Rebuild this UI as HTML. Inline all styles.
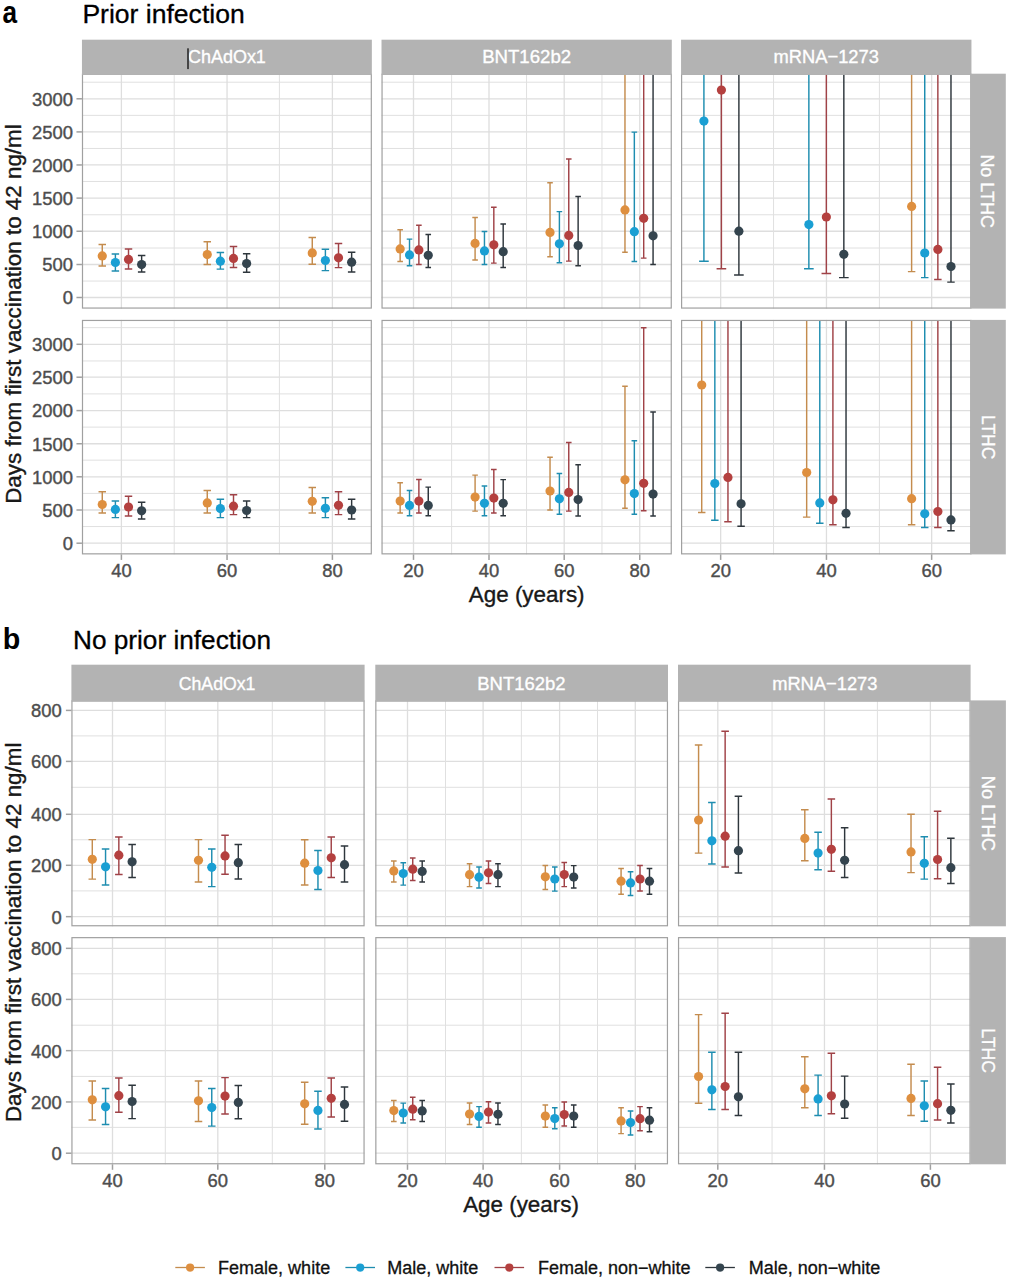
<!DOCTYPE html>
<html><head><meta charset="utf-8"><style>
html,body{margin:0;padding:0;background:#fff;}
svg{display:block;}
text{font-family:"Liberation Sans", sans-serif;}
.st{fill:#fff;font-size:18.5px;text-anchor:middle;stroke:#fff;stroke-width:0.35px;}
.ax{fill:#4D4D4D;font-size:18.4px;stroke:#4D4D4D;stroke-width:0.4px;}
.ti{fill:#1a1a1a;font-size:22.4px;stroke:#111;stroke-width:0.35px;}
.tt{fill:#000;font-size:26.55px;stroke:#000;stroke-width:0.3px;}
.lt{fill:#000;font-size:30.5px;font-weight:bold;}
.lg{fill:#111;font-size:18px;stroke:#111;stroke-width:0.3px;}
.gmaj{stroke:#DEDEDE;stroke-width:1.3;}
.gmin{stroke:#E0E0E0;stroke-width:1.0;}
.bd{fill:none;stroke:#A0A0A0;stroke-width:1.2;}
.tk{stroke:#A0A0A0;stroke-width:1.5;}
.eb{fill:none;stroke-width:1.45;}
</style></head><body>
<svg width="1009" height="1280" viewBox="0 0 1009 1280">
<rect width="1009" height="1280" fill="#fff"/>
<g>
<rect x="81.95" y="73.7" width="289.90" height="234.90" fill="#fff"/>
<line x1="81.95" x2="371.85" y1="82.20" y2="82.20" class="gmin"/>
<line x1="81.95" x2="371.85" y1="98.80" y2="98.80" class="gmaj"/>
<line x1="81.95" x2="371.85" y1="115.35" y2="115.35" class="gmin"/>
<line x1="81.95" x2="371.85" y1="131.90" y2="131.90" class="gmaj"/>
<line x1="81.95" x2="371.85" y1="148.45" y2="148.45" class="gmin"/>
<line x1="81.95" x2="371.85" y1="164.95" y2="164.95" class="gmaj"/>
<line x1="81.95" x2="371.85" y1="181.45" y2="181.45" class="gmin"/>
<line x1="81.95" x2="371.85" y1="198.10" y2="198.10" class="gmaj"/>
<line x1="81.95" x2="371.85" y1="214.75" y2="214.75" class="gmin"/>
<line x1="81.95" x2="371.85" y1="231.25" y2="231.25" class="gmaj"/>
<line x1="81.95" x2="371.85" y1="248.00" y2="248.00" class="gmin"/>
<line x1="81.95" x2="371.85" y1="264.50" y2="264.50" class="gmaj"/>
<line x1="81.95" x2="371.85" y1="281.05" y2="281.05" class="gmin"/>
<line x1="81.95" x2="371.85" y1="297.50" y2="297.50" class="gmaj"/>
<line x1="121.40" x2="121.40" y1="73.7" y2="308.6" class="gmaj"/>
<line x1="174.20" x2="174.20" y1="73.7" y2="308.6" class="gmin"/>
<line x1="227.05" x2="227.05" y1="73.7" y2="308.6" class="gmaj"/>
<line x1="279.40" x2="279.40" y1="73.7" y2="308.6" class="gmin"/>
<line x1="332.40" x2="332.40" y1="73.7" y2="308.6" class="gmaj"/>
<clipPath id="ca00"><rect x="81.95" y="73.7" width="289.90" height="234.90"/></clipPath>
<g clip-path="url(#ca00)">
<path d="M98.53 244.40H105.99M102.26 244.40V266.00M98.53 266.00H105.99" stroke="#C48C4E" class="eb"/>
<path d="M111.66 253.90H119.12M115.39 253.90V270.90M111.66 270.90H119.12" stroke="#1E8DB0" class="eb"/>
<path d="M124.78 249.00H132.24M128.51 249.00V268.90M124.78 268.90H132.24" stroke="#A04247" class="eb"/>
<path d="M137.91 255.40H145.37M141.64 255.40V272.00M137.91 272.00H145.37" stroke="#2E363C" class="eb"/>
<path d="M203.53 241.80H210.99M207.26 241.80V264.40M203.53 264.40H210.99" stroke="#C48C4E" class="eb"/>
<path d="M216.66 252.40H224.12M220.39 252.40V269.10M216.66 269.10H224.12" stroke="#1E8DB0" class="eb"/>
<path d="M229.78 246.40H237.24M233.51 246.40V267.40M229.78 267.40H237.24" stroke="#A04247" class="eb"/>
<path d="M242.91 253.80H250.37M246.64 253.80V272.30M242.91 272.30H250.37" stroke="#2E363C" class="eb"/>
<path d="M308.53 237.40H315.99M312.26 237.40V264.30M308.53 264.30H315.99" stroke="#C48C4E" class="eb"/>
<path d="M321.66 249.30H329.12M325.39 249.30V270.60M321.66 270.60H329.12" stroke="#1E8DB0" class="eb"/>
<path d="M334.78 243.40H342.24M338.51 243.40V267.60M334.78 267.60H342.24" stroke="#A04247" class="eb"/>
<path d="M347.91 252.30H355.37M351.64 252.30V272.00M347.91 272.00H355.37" stroke="#2E363C" class="eb"/>
<circle cx="102.26" cy="255.90" r="4.6" fill="#DE8F3F"/>
<circle cx="115.39" cy="262.50" r="4.6" fill="#1A9FD3"/>
<circle cx="128.51" cy="259.40" r="4.6" fill="#B4403F"/>
<circle cx="141.64" cy="264.60" r="4.6" fill="#34444E"/>
<circle cx="207.26" cy="254.60" r="4.6" fill="#DE8F3F"/>
<circle cx="220.39" cy="261.20" r="4.6" fill="#1A9FD3"/>
<circle cx="233.51" cy="258.40" r="4.6" fill="#B4403F"/>
<circle cx="246.64" cy="263.60" r="4.6" fill="#34444E"/>
<circle cx="312.26" cy="252.90" r="4.6" fill="#DE8F3F"/>
<circle cx="325.39" cy="260.50" r="4.6" fill="#1A9FD3"/>
<circle cx="338.51" cy="257.80" r="4.6" fill="#B4403F"/>
<circle cx="351.64" cy="262.20" r="4.6" fill="#34444E"/>
</g>
<rect x="82.50" y="74.25" width="288.80" height="233.80" class="bd"/>
</g>
<line x1="76.45" x2="81.95" y1="297.50" y2="297.50" class="tk"/>
<text x="72.95" y="304.35" class="ax" text-anchor="end">0</text>
<line x1="76.45" x2="81.95" y1="264.50" y2="264.50" class="tk"/>
<text x="72.95" y="271.35" class="ax" text-anchor="end">500</text>
<line x1="76.45" x2="81.95" y1="231.25" y2="231.25" class="tk"/>
<text x="72.95" y="238.10" class="ax" text-anchor="end">1000</text>
<line x1="76.45" x2="81.95" y1="198.10" y2="198.10" class="tk"/>
<text x="72.95" y="204.95" class="ax" text-anchor="end">1500</text>
<line x1="76.45" x2="81.95" y1="164.95" y2="164.95" class="tk"/>
<text x="72.95" y="171.80" class="ax" text-anchor="end">2000</text>
<line x1="76.45" x2="81.95" y1="131.90" y2="131.90" class="tk"/>
<text x="72.95" y="138.75" class="ax" text-anchor="end">2500</text>
<line x1="76.45" x2="81.95" y1="98.80" y2="98.80" class="tk"/>
<text x="72.95" y="105.65" class="ax" text-anchor="end">3000</text>
<g>
<rect x="381.5" y="73.7" width="290.30" height="234.90" fill="#fff"/>
<line x1="381.5" x2="671.8" y1="82.20" y2="82.20" class="gmin"/>
<line x1="381.5" x2="671.8" y1="98.80" y2="98.80" class="gmaj"/>
<line x1="381.5" x2="671.8" y1="115.35" y2="115.35" class="gmin"/>
<line x1="381.5" x2="671.8" y1="131.90" y2="131.90" class="gmaj"/>
<line x1="381.5" x2="671.8" y1="148.45" y2="148.45" class="gmin"/>
<line x1="381.5" x2="671.8" y1="164.95" y2="164.95" class="gmaj"/>
<line x1="381.5" x2="671.8" y1="181.45" y2="181.45" class="gmin"/>
<line x1="381.5" x2="671.8" y1="198.10" y2="198.10" class="gmaj"/>
<line x1="381.5" x2="671.8" y1="214.75" y2="214.75" class="gmin"/>
<line x1="381.5" x2="671.8" y1="231.25" y2="231.25" class="gmaj"/>
<line x1="381.5" x2="671.8" y1="248.00" y2="248.00" class="gmin"/>
<line x1="381.5" x2="671.8" y1="264.50" y2="264.50" class="gmaj"/>
<line x1="381.5" x2="671.8" y1="281.05" y2="281.05" class="gmin"/>
<line x1="381.5" x2="671.8" y1="297.50" y2="297.50" class="gmaj"/>
<line x1="413.50" x2="413.50" y1="73.7" y2="308.6" class="gmaj"/>
<line x1="451.60" x2="451.60" y1="73.7" y2="308.6" class="gmin"/>
<line x1="489.00" x2="489.00" y1="73.7" y2="308.6" class="gmaj"/>
<line x1="526.55" x2="526.55" y1="73.7" y2="308.6" class="gmin"/>
<line x1="564.20" x2="564.20" y1="73.7" y2="308.6" class="gmaj"/>
<line x1="601.95" x2="601.95" y1="73.7" y2="308.6" class="gmin"/>
<line x1="639.75" x2="639.75" y1="73.7" y2="308.6" class="gmaj"/>
<clipPath id="ca01"><rect x="381.5" y="73.7" width="290.30" height="234.90"/></clipPath>
<g clip-path="url(#ca01)">
<path d="M397.36 229.80H402.94M400.15 229.80V261.40M397.36 261.40H402.94" stroke="#C48C4E" class="eb"/>
<path d="M406.72 239.10H412.31M409.52 239.10V265.70M406.72 265.70H412.31" stroke="#1E8DB0" class="eb"/>
<path d="M416.09 225.20H421.68M418.88 225.20V264.50M416.09 264.50H421.68" stroke="#A04247" class="eb"/>
<path d="M425.46 234.40H431.04M428.25 234.40V267.40M425.46 267.40H431.04" stroke="#2E363C" class="eb"/>
<path d="M472.30 217.50H477.88M475.09 217.50V259.90M472.30 259.90H477.88" stroke="#C48C4E" class="eb"/>
<path d="M481.66 231.50H487.25M484.46 231.50V264.50M481.66 264.50H487.25" stroke="#1E8DB0" class="eb"/>
<path d="M491.03 207.20H496.62M493.82 207.20V263.10M491.03 263.10H496.62" stroke="#A04247" class="eb"/>
<path d="M500.40 224.00H505.98M503.19 224.00V267.40M500.40 267.40H505.98" stroke="#2E363C" class="eb"/>
<path d="M547.24 182.80H552.82M550.03 182.80V256.80M547.24 256.80H552.82" stroke="#C48C4E" class="eb"/>
<path d="M556.60 211.60H562.19M559.40 211.60V262.80M556.60 262.80H562.19" stroke="#1E8DB0" class="eb"/>
<path d="M565.97 159.00H571.56M568.76 159.00V261.10M565.97 261.10H571.56" stroke="#A04247" class="eb"/>
<path d="M575.34 196.50H580.92M578.13 196.50V265.70M575.34 265.70H580.92" stroke="#2E363C" class="eb"/>
<path d="M622.18 53.70H627.76M624.97 53.70V252.20M622.18 252.20H627.76" stroke="#C48C4E" class="eb"/>
<path d="M631.54 132.10H637.13M634.34 132.10V261.50M631.54 261.50H637.13" stroke="#1E8DB0" class="eb"/>
<path d="M640.91 53.70H646.50M643.70 53.70V258.10M640.91 258.10H646.50" stroke="#A04247" class="eb"/>
<path d="M650.28 53.70H655.86M653.07 53.70V264.50M650.28 264.50H655.86" stroke="#2E363C" class="eb"/>
<circle cx="400.15" cy="248.90" r="4.6" fill="#DE8F3F"/>
<circle cx="409.52" cy="254.90" r="4.6" fill="#1A9FD3"/>
<circle cx="418.88" cy="249.90" r="4.6" fill="#B4403F"/>
<circle cx="428.25" cy="255.30" r="4.6" fill="#34444E"/>
<circle cx="475.09" cy="243.40" r="4.6" fill="#DE8F3F"/>
<circle cx="484.46" cy="250.90" r="4.6" fill="#1A9FD3"/>
<circle cx="493.82" cy="244.80" r="4.6" fill="#B4403F"/>
<circle cx="503.19" cy="251.70" r="4.6" fill="#34444E"/>
<circle cx="550.03" cy="232.40" r="4.6" fill="#DE8F3F"/>
<circle cx="559.40" cy="243.80" r="4.6" fill="#1A9FD3"/>
<circle cx="568.76" cy="235.40" r="4.6" fill="#B4403F"/>
<circle cx="578.13" cy="245.50" r="4.6" fill="#34444E"/>
<circle cx="624.97" cy="209.90" r="4.6" fill="#DE8F3F"/>
<circle cx="634.34" cy="231.70" r="4.6" fill="#1A9FD3"/>
<circle cx="643.70" cy="218.30" r="4.6" fill="#B4403F"/>
<circle cx="653.07" cy="235.80" r="4.6" fill="#34444E"/>
</g>
<rect x="382.05" y="74.25" width="289.20" height="233.80" class="bd"/>
</g>
<g>
<rect x="681.05" y="73.7" width="290.40" height="234.90" fill="#fff"/>
<line x1="681.05" x2="971.45" y1="82.20" y2="82.20" class="gmin"/>
<line x1="681.05" x2="971.45" y1="98.80" y2="98.80" class="gmaj"/>
<line x1="681.05" x2="971.45" y1="115.35" y2="115.35" class="gmin"/>
<line x1="681.05" x2="971.45" y1="131.90" y2="131.90" class="gmaj"/>
<line x1="681.05" x2="971.45" y1="148.45" y2="148.45" class="gmin"/>
<line x1="681.05" x2="971.45" y1="164.95" y2="164.95" class="gmaj"/>
<line x1="681.05" x2="971.45" y1="181.45" y2="181.45" class="gmin"/>
<line x1="681.05" x2="971.45" y1="198.10" y2="198.10" class="gmaj"/>
<line x1="681.05" x2="971.45" y1="214.75" y2="214.75" class="gmin"/>
<line x1="681.05" x2="971.45" y1="231.25" y2="231.25" class="gmaj"/>
<line x1="681.05" x2="971.45" y1="248.00" y2="248.00" class="gmin"/>
<line x1="681.05" x2="971.45" y1="264.50" y2="264.50" class="gmaj"/>
<line x1="681.05" x2="971.45" y1="281.05" y2="281.05" class="gmin"/>
<line x1="681.05" x2="971.45" y1="297.50" y2="297.50" class="gmaj"/>
<line x1="720.65" x2="720.65" y1="73.7" y2="308.6" class="gmaj"/>
<line x1="773.55" x2="773.55" y1="73.7" y2="308.6" class="gmin"/>
<line x1="826.45" x2="826.45" y1="73.7" y2="308.6" class="gmaj"/>
<line x1="879.40" x2="879.40" y1="73.7" y2="308.6" class="gmin"/>
<line x1="931.65" x2="931.65" y1="73.7" y2="308.6" class="gmaj"/>
<clipPath id="ca02"><rect x="681.05" y="73.7" width="290.40" height="234.90"/></clipPath>
<g clip-path="url(#ca02)">
<path d="M699.09 53.70H708.73M703.91 53.70V261.20M699.09 261.20H708.73" stroke="#1E8DB0" class="eb"/>
<path d="M716.58 53.70H726.22M721.40 53.70V268.80M716.58 268.80H726.22" stroke="#A04247" class="eb"/>
<path d="M734.07 53.70H743.71M738.89 53.70V274.90M734.07 274.90H743.71" stroke="#2E363C" class="eb"/>
<path d="M804.04 53.70H813.68M808.86 53.70V268.80M804.04 268.80H813.68" stroke="#1E8DB0" class="eb"/>
<path d="M821.53 53.70H831.17M826.35 53.70V273.40M821.53 273.40H831.17" stroke="#A04247" class="eb"/>
<path d="M839.02 53.70H848.66M843.84 53.70V277.60M839.02 277.60H848.66" stroke="#2E363C" class="eb"/>
<path d="M907.89 53.70H915.35M911.62 53.70V271.60M907.89 271.60H915.35" stroke="#C48C4E" class="eb"/>
<path d="M921.01 53.70H928.47M924.74 53.70V277.60M921.01 277.60H928.47" stroke="#1E8DB0" class="eb"/>
<path d="M934.13 53.70H941.59M937.86 53.70V279.40M934.13 279.40H941.59" stroke="#A04247" class="eb"/>
<path d="M947.25 53.70H954.71M950.98 53.70V282.10M947.25 282.10H954.71" stroke="#2E363C" class="eb"/>
<circle cx="703.91" cy="121.10" r="4.6" fill="#1A9FD3"/>
<circle cx="721.40" cy="90.10" r="4.6" fill="#B4403F"/>
<circle cx="738.89" cy="231.20" r="4.6" fill="#34444E"/>
<circle cx="808.86" cy="224.60" r="4.6" fill="#1A9FD3"/>
<circle cx="826.35" cy="217.00" r="4.6" fill="#B4403F"/>
<circle cx="843.84" cy="254.30" r="4.6" fill="#34444E"/>
<circle cx="911.62" cy="206.40" r="4.6" fill="#DE8F3F"/>
<circle cx="924.74" cy="253.00" r="4.6" fill="#1A9FD3"/>
<circle cx="937.86" cy="249.40" r="4.6" fill="#B4403F"/>
<circle cx="950.98" cy="266.50" r="4.6" fill="#34444E"/>
</g>
<rect x="681.60" y="74.25" width="289.30" height="233.80" class="bd"/>
</g>
<g>
<rect x="81.95" y="319.9" width="289.90" height="234.50" fill="#fff"/>
<line x1="81.95" x2="371.85" y1="327.65" y2="327.65" class="gmin"/>
<line x1="81.95" x2="371.85" y1="344.30" y2="344.30" class="gmaj"/>
<line x1="81.95" x2="371.85" y1="360.95" y2="360.95" class="gmin"/>
<line x1="81.95" x2="371.85" y1="377.20" y2="377.20" class="gmaj"/>
<line x1="81.95" x2="371.85" y1="393.90" y2="393.90" class="gmin"/>
<line x1="81.95" x2="371.85" y1="410.60" y2="410.60" class="gmaj"/>
<line x1="81.95" x2="371.85" y1="427.10" y2="427.10" class="gmin"/>
<line x1="81.95" x2="371.85" y1="443.75" y2="443.75" class="gmaj"/>
<line x1="81.95" x2="371.85" y1="460.15" y2="460.15" class="gmin"/>
<line x1="81.95" x2="371.85" y1="476.80" y2="476.80" class="gmaj"/>
<line x1="81.95" x2="371.85" y1="493.40" y2="493.40" class="gmin"/>
<line x1="81.95" x2="371.85" y1="510.00" y2="510.00" class="gmaj"/>
<line x1="81.95" x2="371.85" y1="526.55" y2="526.55" class="gmin"/>
<line x1="81.95" x2="371.85" y1="543.20" y2="543.20" class="gmaj"/>
<line x1="121.40" x2="121.40" y1="319.9" y2="554.4" class="gmaj"/>
<line x1="174.20" x2="174.20" y1="319.9" y2="554.4" class="gmin"/>
<line x1="227.05" x2="227.05" y1="319.9" y2="554.4" class="gmaj"/>
<line x1="279.40" x2="279.40" y1="319.9" y2="554.4" class="gmin"/>
<line x1="332.40" x2="332.40" y1="319.9" y2="554.4" class="gmaj"/>
<clipPath id="ca10"><rect x="81.95" y="319.9" width="289.90" height="234.50"/></clipPath>
<g clip-path="url(#ca10)">
<path d="M98.53 491.70H105.99M102.26 491.70V513.00M98.53 513.00H105.99" stroke="#C48C4E" class="eb"/>
<path d="M111.66 501.00H119.12M115.39 501.00V517.60M111.66 517.60H119.12" stroke="#1E8DB0" class="eb"/>
<path d="M124.78 496.30H132.24M128.51 496.30V516.00M124.78 516.00H132.24" stroke="#A04247" class="eb"/>
<path d="M137.91 502.30H145.37M141.64 502.30V519.00M137.91 519.00H145.37" stroke="#2E363C" class="eb"/>
<path d="M203.53 490.40H210.99M207.26 490.40V513.00M203.53 513.00H210.99" stroke="#C48C4E" class="eb"/>
<path d="M216.66 499.30H224.12M220.39 499.30V517.60M216.66 517.60H224.12" stroke="#1E8DB0" class="eb"/>
<path d="M229.78 494.70H237.24M233.51 494.70V514.60M229.78 514.60H237.24" stroke="#A04247" class="eb"/>
<path d="M242.91 501.00H250.37M246.64 501.00V517.60M242.91 517.60H250.37" stroke="#2E363C" class="eb"/>
<path d="M308.53 487.40H315.99M312.26 487.40V513.00M308.53 513.00H315.99" stroke="#C48C4E" class="eb"/>
<path d="M321.66 497.70H329.12M325.39 497.70V517.60M321.66 517.60H329.12" stroke="#1E8DB0" class="eb"/>
<path d="M334.78 491.70H342.24M338.51 491.70V514.60M334.78 514.60H342.24" stroke="#A04247" class="eb"/>
<path d="M347.91 499.30H355.37M351.64 499.30V519.00M347.91 519.00H355.37" stroke="#2E363C" class="eb"/>
<circle cx="102.26" cy="504.50" r="4.6" fill="#DE8F3F"/>
<circle cx="115.39" cy="509.40" r="4.6" fill="#1A9FD3"/>
<circle cx="128.51" cy="507.00" r="4.6" fill="#B4403F"/>
<circle cx="141.64" cy="510.80" r="4.6" fill="#34444E"/>
<circle cx="207.26" cy="502.90" r="4.6" fill="#DE8F3F"/>
<circle cx="220.39" cy="508.60" r="4.6" fill="#1A9FD3"/>
<circle cx="233.51" cy="506.20" r="4.6" fill="#B4403F"/>
<circle cx="246.64" cy="510.50" r="4.6" fill="#34444E"/>
<circle cx="312.26" cy="501.30" r="4.6" fill="#DE8F3F"/>
<circle cx="325.39" cy="508.30" r="4.6" fill="#1A9FD3"/>
<circle cx="338.51" cy="505.30" r="4.6" fill="#B4403F"/>
<circle cx="351.64" cy="510.00" r="4.6" fill="#34444E"/>
</g>
<rect x="82.50" y="320.45" width="288.80" height="233.40" class="bd"/>
</g>
<line x1="76.45" x2="81.95" y1="543.20" y2="543.20" class="tk"/>
<text x="72.95" y="550.05" class="ax" text-anchor="end">0</text>
<line x1="76.45" x2="81.95" y1="510.00" y2="510.00" class="tk"/>
<text x="72.95" y="516.85" class="ax" text-anchor="end">500</text>
<line x1="76.45" x2="81.95" y1="476.80" y2="476.80" class="tk"/>
<text x="72.95" y="483.65" class="ax" text-anchor="end">1000</text>
<line x1="76.45" x2="81.95" y1="443.75" y2="443.75" class="tk"/>
<text x="72.95" y="450.60" class="ax" text-anchor="end">1500</text>
<line x1="76.45" x2="81.95" y1="410.60" y2="410.60" class="tk"/>
<text x="72.95" y="417.45" class="ax" text-anchor="end">2000</text>
<line x1="76.45" x2="81.95" y1="377.20" y2="377.20" class="tk"/>
<text x="72.95" y="384.05" class="ax" text-anchor="end">2500</text>
<line x1="76.45" x2="81.95" y1="344.30" y2="344.30" class="tk"/>
<text x="72.95" y="351.15" class="ax" text-anchor="end">3000</text>
<line x1="121.40" x2="121.40" y1="554.4" y2="559.90" class="tk"/>
<text x="121.40" y="576.60" class="ax" text-anchor="middle">40</text>
<line x1="227.05" x2="227.05" y1="554.4" y2="559.90" class="tk"/>
<text x="227.05" y="576.60" class="ax" text-anchor="middle">60</text>
<line x1="332.40" x2="332.40" y1="554.4" y2="559.90" class="tk"/>
<text x="332.40" y="576.60" class="ax" text-anchor="middle">80</text>
<g>
<rect x="381.5" y="319.9" width="290.30" height="234.50" fill="#fff"/>
<line x1="381.5" x2="671.8" y1="327.65" y2="327.65" class="gmin"/>
<line x1="381.5" x2="671.8" y1="344.30" y2="344.30" class="gmaj"/>
<line x1="381.5" x2="671.8" y1="360.95" y2="360.95" class="gmin"/>
<line x1="381.5" x2="671.8" y1="377.20" y2="377.20" class="gmaj"/>
<line x1="381.5" x2="671.8" y1="393.90" y2="393.90" class="gmin"/>
<line x1="381.5" x2="671.8" y1="410.60" y2="410.60" class="gmaj"/>
<line x1="381.5" x2="671.8" y1="427.10" y2="427.10" class="gmin"/>
<line x1="381.5" x2="671.8" y1="443.75" y2="443.75" class="gmaj"/>
<line x1="381.5" x2="671.8" y1="460.15" y2="460.15" class="gmin"/>
<line x1="381.5" x2="671.8" y1="476.80" y2="476.80" class="gmaj"/>
<line x1="381.5" x2="671.8" y1="493.40" y2="493.40" class="gmin"/>
<line x1="381.5" x2="671.8" y1="510.00" y2="510.00" class="gmaj"/>
<line x1="381.5" x2="671.8" y1="526.55" y2="526.55" class="gmin"/>
<line x1="381.5" x2="671.8" y1="543.20" y2="543.20" class="gmaj"/>
<line x1="413.50" x2="413.50" y1="319.9" y2="554.4" class="gmaj"/>
<line x1="451.60" x2="451.60" y1="319.9" y2="554.4" class="gmin"/>
<line x1="489.00" x2="489.00" y1="319.9" y2="554.4" class="gmaj"/>
<line x1="526.55" x2="526.55" y1="319.9" y2="554.4" class="gmin"/>
<line x1="564.20" x2="564.20" y1="319.9" y2="554.4" class="gmaj"/>
<line x1="601.95" x2="601.95" y1="319.9" y2="554.4" class="gmin"/>
<line x1="639.75" x2="639.75" y1="319.9" y2="554.4" class="gmaj"/>
<clipPath id="ca11"><rect x="381.5" y="319.9" width="290.30" height="234.50"/></clipPath>
<g clip-path="url(#ca11)">
<path d="M397.36 482.70H402.94M400.15 482.70V512.90M397.36 512.90H402.94" stroke="#C48C4E" class="eb"/>
<path d="M406.72 490.40H412.31M409.52 490.40V515.80M406.72 515.80H412.31" stroke="#1E8DB0" class="eb"/>
<path d="M416.09 479.40H421.68M418.88 479.40V512.90M416.09 512.90H421.68" stroke="#A04247" class="eb"/>
<path d="M425.46 487.10H431.04M428.25 487.10V515.80M425.46 515.80H431.04" stroke="#2E363C" class="eb"/>
<path d="M472.30 475.10H477.88M475.09 475.10V511.10M472.30 511.10H477.88" stroke="#C48C4E" class="eb"/>
<path d="M481.66 485.90H487.25M484.46 485.90V515.80M481.66 515.80H487.25" stroke="#1E8DB0" class="eb"/>
<path d="M491.03 469.40H496.62M493.82 469.40V512.90M491.03 512.90H496.62" stroke="#A04247" class="eb"/>
<path d="M500.40 479.60H505.98M503.19 479.60V515.80M500.40 515.80H505.98" stroke="#2E363C" class="eb"/>
<path d="M547.24 457.20H552.82M550.03 457.20V509.90M547.24 509.90H552.82" stroke="#C48C4E" class="eb"/>
<path d="M556.60 473.50H562.19M559.40 473.50V514.20M556.60 514.20H562.19" stroke="#1E8DB0" class="eb"/>
<path d="M565.97 442.40H571.56M568.76 442.40V511.10M565.97 511.10H571.56" stroke="#A04247" class="eb"/>
<path d="M575.34 464.70H580.92M578.13 464.70V515.90M575.34 515.90H580.92" stroke="#2E363C" class="eb"/>
<path d="M622.18 386.20H627.76M624.97 386.20V508.20M622.18 508.20H627.76" stroke="#C48C4E" class="eb"/>
<path d="M631.54 440.70H637.13M634.34 440.70V514.20M631.54 514.20H637.13" stroke="#1E8DB0" class="eb"/>
<path d="M640.91 327.70H646.50M643.70 327.70V510.80M640.91 510.80H646.50" stroke="#A04247" class="eb"/>
<path d="M650.28 412.00H655.86M653.07 412.00V515.90M650.28 515.90H655.86" stroke="#2E363C" class="eb"/>
<circle cx="400.15" cy="501.10" r="4.6" fill="#DE8F3F"/>
<circle cx="409.52" cy="505.40" r="4.6" fill="#1A9FD3"/>
<circle cx="418.88" cy="501.10" r="4.6" fill="#B4403F"/>
<circle cx="428.25" cy="505.40" r="4.6" fill="#34444E"/>
<circle cx="475.09" cy="497.10" r="4.6" fill="#DE8F3F"/>
<circle cx="484.46" cy="503.30" r="4.6" fill="#1A9FD3"/>
<circle cx="493.82" cy="498.10" r="4.6" fill="#B4403F"/>
<circle cx="503.19" cy="503.30" r="4.6" fill="#34444E"/>
<circle cx="550.03" cy="491.00" r="4.6" fill="#DE8F3F"/>
<circle cx="559.40" cy="498.80" r="4.6" fill="#1A9FD3"/>
<circle cx="568.76" cy="492.40" r="4.6" fill="#B4403F"/>
<circle cx="578.13" cy="499.60" r="4.6" fill="#34444E"/>
<circle cx="624.97" cy="479.80" r="4.6" fill="#DE8F3F"/>
<circle cx="634.34" cy="493.60" r="4.6" fill="#1A9FD3"/>
<circle cx="643.70" cy="483.30" r="4.6" fill="#B4403F"/>
<circle cx="653.07" cy="494.10" r="4.6" fill="#34444E"/>
</g>
<rect x="382.05" y="320.45" width="289.20" height="233.40" class="bd"/>
</g>
<line x1="413.50" x2="413.50" y1="554.4" y2="559.90" class="tk"/>
<text x="413.50" y="576.60" class="ax" text-anchor="middle">20</text>
<line x1="489.00" x2="489.00" y1="554.4" y2="559.90" class="tk"/>
<text x="489.00" y="576.60" class="ax" text-anchor="middle">40</text>
<line x1="564.20" x2="564.20" y1="554.4" y2="559.90" class="tk"/>
<text x="564.20" y="576.60" class="ax" text-anchor="middle">60</text>
<line x1="639.75" x2="639.75" y1="554.4" y2="559.90" class="tk"/>
<text x="639.75" y="576.60" class="ax" text-anchor="middle">80</text>
<g>
<rect x="681.05" y="319.9" width="290.40" height="234.50" fill="#fff"/>
<line x1="681.05" x2="971.45" y1="327.65" y2="327.65" class="gmin"/>
<line x1="681.05" x2="971.45" y1="344.30" y2="344.30" class="gmaj"/>
<line x1="681.05" x2="971.45" y1="360.95" y2="360.95" class="gmin"/>
<line x1="681.05" x2="971.45" y1="377.20" y2="377.20" class="gmaj"/>
<line x1="681.05" x2="971.45" y1="393.90" y2="393.90" class="gmin"/>
<line x1="681.05" x2="971.45" y1="410.60" y2="410.60" class="gmaj"/>
<line x1="681.05" x2="971.45" y1="427.10" y2="427.10" class="gmin"/>
<line x1="681.05" x2="971.45" y1="443.75" y2="443.75" class="gmaj"/>
<line x1="681.05" x2="971.45" y1="460.15" y2="460.15" class="gmin"/>
<line x1="681.05" x2="971.45" y1="476.80" y2="476.80" class="gmaj"/>
<line x1="681.05" x2="971.45" y1="493.40" y2="493.40" class="gmin"/>
<line x1="681.05" x2="971.45" y1="510.00" y2="510.00" class="gmaj"/>
<line x1="681.05" x2="971.45" y1="526.55" y2="526.55" class="gmin"/>
<line x1="681.05" x2="971.45" y1="543.20" y2="543.20" class="gmaj"/>
<line x1="720.65" x2="720.65" y1="319.9" y2="554.4" class="gmaj"/>
<line x1="773.55" x2="773.55" y1="319.9" y2="554.4" class="gmin"/>
<line x1="826.45" x2="826.45" y1="319.9" y2="554.4" class="gmaj"/>
<line x1="879.40" x2="879.40" y1="319.9" y2="554.4" class="gmin"/>
<line x1="931.65" x2="931.65" y1="319.9" y2="554.4" class="gmaj"/>
<clipPath id="ca12"><rect x="681.05" y="319.9" width="290.40" height="234.50"/></clipPath>
<g clip-path="url(#ca12)">
<path d="M697.99 299.90H705.45M701.72 299.90V512.60M697.99 512.60H705.45" stroke="#C48C4E" class="eb"/>
<path d="M711.11 299.90H718.57M714.84 299.90V520.20M711.11 520.20H718.57" stroke="#1E8DB0" class="eb"/>
<path d="M724.23 299.90H731.69M727.96 299.90V521.70M724.23 521.70H731.69" stroke="#A04247" class="eb"/>
<path d="M737.35 299.90H744.81M741.08 299.90V526.20M737.35 526.20H744.81" stroke="#2E363C" class="eb"/>
<path d="M802.94 299.90H810.40M806.67 299.90V517.10M802.94 517.10H810.40" stroke="#C48C4E" class="eb"/>
<path d="M816.06 299.90H823.52M819.79 299.90V523.30M816.06 523.30H823.52" stroke="#1E8DB0" class="eb"/>
<path d="M829.18 299.90H836.64M832.91 299.90V524.80M829.18 524.80H836.64" stroke="#A04247" class="eb"/>
<path d="M842.30 299.90H849.76M846.03 299.90V527.50M842.30 527.50H849.76" stroke="#2E363C" class="eb"/>
<path d="M907.89 299.90H915.35M911.62 299.90V524.80M907.89 524.80H915.35" stroke="#C48C4E" class="eb"/>
<path d="M921.01 299.90H928.47M924.74 299.90V527.50M921.01 527.50H928.47" stroke="#1E8DB0" class="eb"/>
<path d="M934.13 299.90H941.59M937.86 299.90V527.50M934.13 527.50H941.59" stroke="#A04247" class="eb"/>
<path d="M947.25 299.90H954.71M950.98 299.90V530.80M947.25 530.80H954.71" stroke="#2E363C" class="eb"/>
<circle cx="701.72" cy="385.00" r="4.6" fill="#DE8F3F"/>
<circle cx="714.84" cy="483.50" r="4.6" fill="#1A9FD3"/>
<circle cx="727.96" cy="477.40" r="4.6" fill="#B4403F"/>
<circle cx="741.08" cy="503.80" r="4.6" fill="#34444E"/>
<circle cx="806.67" cy="472.50" r="4.6" fill="#DE8F3F"/>
<circle cx="819.79" cy="502.90" r="4.6" fill="#1A9FD3"/>
<circle cx="832.91" cy="499.80" r="4.6" fill="#B4403F"/>
<circle cx="846.03" cy="513.30" r="4.6" fill="#34444E"/>
<circle cx="911.62" cy="498.70" r="4.6" fill="#DE8F3F"/>
<circle cx="924.74" cy="513.80" r="4.6" fill="#1A9FD3"/>
<circle cx="937.86" cy="511.50" r="4.6" fill="#B4403F"/>
<circle cx="950.98" cy="519.90" r="4.6" fill="#34444E"/>
</g>
<rect x="681.60" y="320.45" width="289.30" height="233.40" class="bd"/>
</g>
<line x1="720.65" x2="720.65" y1="554.4" y2="559.90" class="tk"/>
<text x="720.65" y="576.60" class="ax" text-anchor="middle">20</text>
<line x1="826.45" x2="826.45" y1="554.4" y2="559.90" class="tk"/>
<text x="826.45" y="576.60" class="ax" text-anchor="middle">40</text>
<line x1="931.65" x2="931.65" y1="554.4" y2="559.90" class="tk"/>
<text x="931.65" y="576.60" class="ax" text-anchor="middle">60</text>
<rect x="81.95" y="39.7" width="289.90" height="35.10" fill="#B3B3B3"/>
<text x="226.90" y="62.90" class="st" textLength="78.0" lengthAdjust="spacingAndGlyphs">ChAdOx1</text>
<rect x="381.5" y="39.7" width="290.30" height="35.10" fill="#B3B3B3"/>
<text x="526.65" y="62.90" class="st" textLength="89.0" lengthAdjust="spacingAndGlyphs">BNT162b2</text>
<rect x="681.05" y="39.7" width="290.40" height="35.10" fill="#B3B3B3"/>
<text x="826.25" y="62.90" class="st" textLength="105.3" lengthAdjust="spacingAndGlyphs">mRNA−1273</text>
<rect x="970.3" y="73.7" width="35.50" height="234.90" fill="#B3B3B3"/>
<text x="981.60" y="191.75" class="st" textLength="73.5" lengthAdjust="spacingAndGlyphs" transform="rotate(90 981.60 191.15)">No LTHC</text>
<rect x="970.3" y="319.9" width="35.50" height="234.50" fill="#B3B3B3"/>
<text x="981.60" y="437.15" class="st" textLength="44.1" lengthAdjust="spacingAndGlyphs" transform="rotate(90 981.60 437.15)">LTHC</text>
<text x="526.70" y="602.40" class="ti" text-anchor="middle">Age (years)</text>
<text x="21.50" y="314.05" class="ti" text-anchor="middle" transform="rotate(-90 21.50 314.05)">Days from first vaccination to 42 ng/ml</text>
<text transform="translate(2.4 22.8) scale(0.86 1)" x="0" y="0" class="lt" style="font-size:30.5px">a</text>
<text x="82.4" y="22.6" class="tt" style="font-size:26.55px">Prior infection</text>
<g>
<rect x="71.4" y="700.4" width="293.20" height="225.90" fill="#fff"/>
<line x1="71.4" x2="364.6" y1="710.40" y2="710.40" class="gmaj"/>
<line x1="71.4" x2="364.6" y1="735.90" y2="735.90" class="gmin"/>
<line x1="71.4" x2="364.6" y1="761.40" y2="761.40" class="gmaj"/>
<line x1="71.4" x2="364.6" y1="787.30" y2="787.30" class="gmin"/>
<line x1="71.4" x2="364.6" y1="814.30" y2="814.30" class="gmaj"/>
<line x1="71.4" x2="364.6" y1="839.75" y2="839.75" class="gmin"/>
<line x1="71.4" x2="364.6" y1="865.30" y2="865.30" class="gmaj"/>
<line x1="71.4" x2="364.6" y1="890.90" y2="890.90" class="gmin"/>
<line x1="71.4" x2="364.6" y1="916.65" y2="916.65" class="gmaj"/>
<line x1="112.50" x2="112.50" y1="700.4" y2="926.3" class="gmaj"/>
<line x1="165.30" x2="165.30" y1="700.4" y2="926.3" class="gmin"/>
<line x1="217.80" x2="217.80" y1="700.4" y2="926.3" class="gmaj"/>
<line x1="272.30" x2="272.30" y1="700.4" y2="926.3" class="gmin"/>
<line x1="324.80" x2="324.80" y1="700.4" y2="926.3" class="gmaj"/>
<clipPath id="cb00"><rect x="71.4" y="700.4" width="293.20" height="225.90"/></clipPath>
<g clip-path="url(#cb00)">
<path d="M88.52 839.60H96.06M92.29 839.60V879.10M88.52 879.10H96.06" stroke="#C48C4E" class="eb"/>
<path d="M101.79 849.00H109.33M105.56 849.00V884.90M101.79 884.90H109.33" stroke="#1E8DB0" class="eb"/>
<path d="M115.07 836.90H122.61M118.84 836.90V874.50M115.07 874.50H122.61" stroke="#A04247" class="eb"/>
<path d="M128.34 844.40H135.88M132.11 844.40V877.40M128.34 877.40H135.88" stroke="#2E363C" class="eb"/>
<path d="M194.72 839.60H202.26M198.49 839.60V882.00M194.72 882.00H202.26" stroke="#C48C4E" class="eb"/>
<path d="M207.99 849.00H215.53M211.76 849.00V886.60M207.99 886.60H215.53" stroke="#1E8DB0" class="eb"/>
<path d="M221.27 835.30H228.81M225.04 835.30V874.30M221.27 874.30H228.81" stroke="#A04247" class="eb"/>
<path d="M234.54 844.40H242.08M238.31 844.40V878.90M234.54 878.90H242.08" stroke="#2E363C" class="eb"/>
<path d="M300.92 839.80H308.46M304.69 839.80V885.00M300.92 885.00H308.46" stroke="#C48C4E" class="eb"/>
<path d="M314.19 850.50H321.73M317.96 850.50V889.40M314.19 889.40H321.73" stroke="#1E8DB0" class="eb"/>
<path d="M327.47 836.90H335.01M331.24 836.90V877.40M327.47 877.40H335.01" stroke="#A04247" class="eb"/>
<path d="M340.74 845.90H348.28M344.51 845.90V882.00M340.74 882.00H348.28" stroke="#2E363C" class="eb"/>
<circle cx="92.29" cy="859.30" r="4.6" fill="#DE8F3F"/>
<circle cx="105.56" cy="866.80" r="4.6" fill="#1A9FD3"/>
<circle cx="118.84" cy="855.20" r="4.6" fill="#B4403F"/>
<circle cx="132.11" cy="861.80" r="4.6" fill="#34444E"/>
<circle cx="198.49" cy="860.30" r="4.6" fill="#DE8F3F"/>
<circle cx="211.76" cy="867.30" r="4.6" fill="#1A9FD3"/>
<circle cx="225.04" cy="855.90" r="4.6" fill="#B4403F"/>
<circle cx="238.31" cy="862.70" r="4.6" fill="#34444E"/>
<circle cx="304.69" cy="863.20" r="4.6" fill="#DE8F3F"/>
<circle cx="317.96" cy="870.50" r="4.6" fill="#1A9FD3"/>
<circle cx="331.24" cy="857.80" r="4.6" fill="#B4403F"/>
<circle cx="344.51" cy="864.70" r="4.6" fill="#34444E"/>
</g>
<rect x="71.95" y="700.95" width="292.10" height="224.80" class="bd"/>
</g>
<line x1="65.90" x2="71.4" y1="916.65" y2="916.65" class="tk"/>
<text x="61.80" y="923.50" class="ax" text-anchor="end">0</text>
<line x1="65.90" x2="71.4" y1="865.30" y2="865.30" class="tk"/>
<text x="61.80" y="872.15" class="ax" text-anchor="end">200</text>
<line x1="65.90" x2="71.4" y1="814.30" y2="814.30" class="tk"/>
<text x="61.80" y="821.15" class="ax" text-anchor="end">400</text>
<line x1="65.90" x2="71.4" y1="761.40" y2="761.40" class="tk"/>
<text x="61.80" y="768.25" class="ax" text-anchor="end">600</text>
<line x1="65.90" x2="71.4" y1="710.40" y2="710.40" class="tk"/>
<text x="61.80" y="717.25" class="ax" text-anchor="end">800</text>
<g>
<rect x="375.3" y="700.4" width="292.70" height="225.90" fill="#fff"/>
<line x1="375.3" x2="668.0" y1="710.40" y2="710.40" class="gmaj"/>
<line x1="375.3" x2="668.0" y1="735.90" y2="735.90" class="gmin"/>
<line x1="375.3" x2="668.0" y1="761.40" y2="761.40" class="gmaj"/>
<line x1="375.3" x2="668.0" y1="787.30" y2="787.30" class="gmin"/>
<line x1="375.3" x2="668.0" y1="814.30" y2="814.30" class="gmaj"/>
<line x1="375.3" x2="668.0" y1="839.75" y2="839.75" class="gmin"/>
<line x1="375.3" x2="668.0" y1="865.30" y2="865.30" class="gmaj"/>
<line x1="375.3" x2="668.0" y1="890.90" y2="890.90" class="gmin"/>
<line x1="375.3" x2="668.0" y1="916.65" y2="916.65" class="gmaj"/>
<line x1="407.50" x2="407.50" y1="700.4" y2="926.3" class="gmaj"/>
<line x1="445.50" x2="445.50" y1="700.4" y2="926.3" class="gmin"/>
<line x1="483.10" x2="483.10" y1="700.4" y2="926.3" class="gmaj"/>
<line x1="521.35" x2="521.35" y1="700.4" y2="926.3" class="gmin"/>
<line x1="559.60" x2="559.60" y1="700.4" y2="926.3" class="gmaj"/>
<line x1="597.50" x2="597.50" y1="700.4" y2="926.3" class="gmin"/>
<line x1="635.30" x2="635.30" y1="700.4" y2="926.3" class="gmaj"/>
<clipPath id="cb01"><rect x="375.3" y="700.4" width="292.70" height="225.90"/></clipPath>
<g clip-path="url(#cb01)">
<path d="M390.98 861.00H396.61M393.80 861.00V881.90M390.98 881.90H396.61" stroke="#C48C4E" class="eb"/>
<path d="M400.45 862.70H406.08M403.26 862.70V885.10M400.45 885.10H406.08" stroke="#1E8DB0" class="eb"/>
<path d="M409.92 857.90H415.55M412.74 857.90V880.50M409.92 880.50H415.55" stroke="#A04247" class="eb"/>
<path d="M419.39 861.00H425.02M422.20 861.00V881.90M419.39 881.90H425.02" stroke="#2E363C" class="eb"/>
<path d="M466.74 863.80H472.37M469.56 863.80V886.60M466.74 886.60H472.37" stroke="#C48C4E" class="eb"/>
<path d="M476.21 867.00H481.84M479.02 867.00V888.00M476.21 888.00H481.84" stroke="#1E8DB0" class="eb"/>
<path d="M485.68 861.00H491.31M488.50 861.00V883.40M485.68 883.40H491.31" stroke="#A04247" class="eb"/>
<path d="M495.15 863.80H500.78M497.96 863.80V886.60M495.15 886.60H500.78" stroke="#2E363C" class="eb"/>
<path d="M542.50 865.50H548.13M545.32 865.50V889.50M542.50 889.50H548.13" stroke="#C48C4E" class="eb"/>
<path d="M551.97 866.90H557.60M554.78 866.90V891.10M551.97 891.10H557.60" stroke="#1E8DB0" class="eb"/>
<path d="M561.44 862.50H567.07M564.25 862.50V886.60M561.44 886.60H567.07" stroke="#A04247" class="eb"/>
<path d="M570.91 865.60H576.54M573.73 865.60V888.00M570.91 888.00H576.54" stroke="#2E363C" class="eb"/>
<path d="M618.26 868.50H623.89M621.08 868.50V894.30M618.26 894.30H623.89" stroke="#C48C4E" class="eb"/>
<path d="M627.73 871.70H633.36M630.54 871.70V895.50M627.73 895.50H633.36" stroke="#1E8DB0" class="eb"/>
<path d="M637.20 865.50H642.83M640.01 865.50V891.00M637.20 891.00H642.83" stroke="#A04247" class="eb"/>
<path d="M646.67 868.50H652.30M649.49 868.50V894.30M646.67 894.30H652.30" stroke="#2E363C" class="eb"/>
<circle cx="393.80" cy="870.90" r="4.6" fill="#DE8F3F"/>
<circle cx="403.26" cy="873.50" r="4.6" fill="#1A9FD3"/>
<circle cx="412.74" cy="869.20" r="4.6" fill="#B4403F"/>
<circle cx="422.20" cy="871.40" r="4.6" fill="#34444E"/>
<circle cx="469.56" cy="874.70" r="4.6" fill="#DE8F3F"/>
<circle cx="479.02" cy="877.20" r="4.6" fill="#1A9FD3"/>
<circle cx="488.50" cy="872.80" r="4.6" fill="#B4403F"/>
<circle cx="497.96" cy="874.70" r="4.6" fill="#34444E"/>
<circle cx="545.32" cy="876.80" r="4.6" fill="#DE8F3F"/>
<circle cx="554.78" cy="879.00" r="4.6" fill="#1A9FD3"/>
<circle cx="564.25" cy="874.60" r="4.6" fill="#B4403F"/>
<circle cx="573.73" cy="877.10" r="4.6" fill="#34444E"/>
<circle cx="621.08" cy="881.20" r="4.6" fill="#DE8F3F"/>
<circle cx="630.54" cy="882.90" r="4.6" fill="#1A9FD3"/>
<circle cx="640.01" cy="879.00" r="4.6" fill="#B4403F"/>
<circle cx="649.49" cy="881.20" r="4.6" fill="#34444E"/>
</g>
<rect x="375.85" y="700.95" width="291.60" height="224.80" class="bd"/>
</g>
<g>
<rect x="678.0" y="700.4" width="292.60" height="225.90" fill="#fff"/>
<line x1="678.0" x2="970.6" y1="710.40" y2="710.40" class="gmaj"/>
<line x1="678.0" x2="970.6" y1="735.90" y2="735.90" class="gmin"/>
<line x1="678.0" x2="970.6" y1="761.40" y2="761.40" class="gmaj"/>
<line x1="678.0" x2="970.6" y1="787.30" y2="787.30" class="gmin"/>
<line x1="678.0" x2="970.6" y1="814.30" y2="814.30" class="gmaj"/>
<line x1="678.0" x2="970.6" y1="839.75" y2="839.75" class="gmin"/>
<line x1="678.0" x2="970.6" y1="865.30" y2="865.30" class="gmaj"/>
<line x1="678.0" x2="970.6" y1="890.90" y2="890.90" class="gmin"/>
<line x1="678.0" x2="970.6" y1="916.65" y2="916.65" class="gmaj"/>
<line x1="717.80" x2="717.80" y1="700.4" y2="926.3" class="gmaj"/>
<line x1="772.05" x2="772.05" y1="700.4" y2="926.3" class="gmin"/>
<line x1="824.45" x2="824.45" y1="700.4" y2="926.3" class="gmaj"/>
<line x1="877.40" x2="877.40" y1="700.4" y2="926.3" class="gmin"/>
<line x1="930.40" x2="930.40" y1="700.4" y2="926.3" class="gmaj"/>
<clipPath id="cb02"><rect x="678.0" y="700.4" width="292.60" height="225.90"/></clipPath>
<g clip-path="url(#cb02)">
<path d="M694.81 745.00H702.35M698.58 745.00V853.10M694.81 853.10H702.35" stroke="#C48C4E" class="eb"/>
<path d="M708.09 802.50H715.63M711.86 802.50V864.00M708.09 864.00H715.63" stroke="#1E8DB0" class="eb"/>
<path d="M721.37 731.30H728.91M725.14 731.30V866.90M721.37 866.90H728.91" stroke="#A04247" class="eb"/>
<path d="M734.65 796.30H742.19M738.42 796.30V873.00M734.65 873.00H742.19" stroke="#2E363C" class="eb"/>
<path d="M801.03 809.80H808.57M804.80 809.80V860.70M801.03 860.70H808.57" stroke="#C48C4E" class="eb"/>
<path d="M814.31 832.30H821.85M818.08 832.30V869.80M814.31 869.80H821.85" stroke="#1E8DB0" class="eb"/>
<path d="M827.59 798.90H835.13M831.36 798.90V871.20M827.59 871.20H835.13" stroke="#A04247" class="eb"/>
<path d="M840.87 827.70H848.41M844.64 827.70V877.40M840.87 877.40H848.41" stroke="#2E363C" class="eb"/>
<path d="M907.25 814.20H914.79M911.02 814.20V872.60M907.25 872.60H914.79" stroke="#C48C4E" class="eb"/>
<path d="M920.53 836.70H928.07M924.30 836.70V879.10M920.53 879.10H928.07" stroke="#1E8DB0" class="eb"/>
<path d="M933.81 811.20H941.35M937.58 811.20V878.80M933.81 878.80H941.35" stroke="#A04247" class="eb"/>
<path d="M947.09 838.20H954.63M950.86 838.20V883.50M947.09 883.50H954.63" stroke="#2E363C" class="eb"/>
<circle cx="698.58" cy="820.10" r="4.6" fill="#DE8F3F"/>
<circle cx="711.86" cy="840.80" r="4.6" fill="#1A9FD3"/>
<circle cx="725.14" cy="836.20" r="4.6" fill="#B4403F"/>
<circle cx="738.42" cy="850.70" r="4.6" fill="#34444E"/>
<circle cx="804.80" cy="838.40" r="4.6" fill="#DE8F3F"/>
<circle cx="818.08" cy="853.10" r="4.6" fill="#1A9FD3"/>
<circle cx="831.36" cy="849.30" r="4.6" fill="#B4403F"/>
<circle cx="844.64" cy="860.30" r="4.6" fill="#34444E"/>
<circle cx="911.02" cy="851.90" r="4.6" fill="#DE8F3F"/>
<circle cx="924.30" cy="863.30" r="4.6" fill="#1A9FD3"/>
<circle cx="937.58" cy="859.50" r="4.6" fill="#B4403F"/>
<circle cx="950.86" cy="867.70" r="4.6" fill="#34444E"/>
</g>
<rect x="678.55" y="700.95" width="291.50" height="224.80" class="bd"/>
</g>
<g>
<rect x="71.4" y="937.1" width="293.20" height="227.20" fill="#fff"/>
<line x1="71.4" x2="364.6" y1="948.35" y2="948.35" class="gmaj"/>
<line x1="71.4" x2="364.6" y1="973.80" y2="973.80" class="gmin"/>
<line x1="71.4" x2="364.6" y1="999.40" y2="999.40" class="gmaj"/>
<line x1="71.4" x2="364.6" y1="1025.20" y2="1025.20" class="gmin"/>
<line x1="71.4" x2="364.6" y1="1050.65" y2="1050.65" class="gmaj"/>
<line x1="71.4" x2="364.6" y1="1076.40" y2="1076.40" class="gmin"/>
<line x1="71.4" x2="364.6" y1="1101.95" y2="1101.95" class="gmaj"/>
<line x1="71.4" x2="364.6" y1="1127.35" y2="1127.35" class="gmin"/>
<line x1="71.4" x2="364.6" y1="1153.20" y2="1153.20" class="gmaj"/>
<line x1="112.50" x2="112.50" y1="937.1" y2="1164.3" class="gmaj"/>
<line x1="165.30" x2="165.30" y1="937.1" y2="1164.3" class="gmin"/>
<line x1="217.80" x2="217.80" y1="937.1" y2="1164.3" class="gmaj"/>
<line x1="272.30" x2="272.30" y1="937.1" y2="1164.3" class="gmin"/>
<line x1="324.80" x2="324.80" y1="937.1" y2="1164.3" class="gmaj"/>
<clipPath id="cb10"><rect x="71.4" y="937.1" width="293.20" height="227.20"/></clipPath>
<g clip-path="url(#cb10)">
<path d="M88.52 1081.00H96.06M92.29 1081.00V1119.90M88.52 1119.90H96.06" stroke="#C48C4E" class="eb"/>
<path d="M101.79 1088.50H109.33M105.56 1088.50V1124.40M101.79 1124.40H109.33" stroke="#1E8DB0" class="eb"/>
<path d="M115.07 1077.90H122.61M118.84 1077.90V1112.30M115.07 1112.30H122.61" stroke="#A04247" class="eb"/>
<path d="M128.34 1085.30H135.88M132.11 1085.30V1118.60M128.34 1118.60H135.88" stroke="#2E363C" class="eb"/>
<path d="M194.72 1081.00H202.26M198.49 1081.00V1121.50M194.72 1121.50H202.26" stroke="#C48C4E" class="eb"/>
<path d="M207.99 1088.50H215.53M211.76 1088.50V1126.10M207.99 1126.10H215.53" stroke="#1E8DB0" class="eb"/>
<path d="M221.27 1077.60H228.81M225.04 1077.60V1114.00M221.27 1114.00H228.81" stroke="#A04247" class="eb"/>
<path d="M234.54 1085.50H242.08M238.31 1085.50V1118.70M234.54 1118.70H242.08" stroke="#2E363C" class="eb"/>
<path d="M300.92 1082.20H308.46M304.69 1082.20V1124.20M300.92 1124.20H308.46" stroke="#C48C4E" class="eb"/>
<path d="M314.19 1091.30H321.73M317.96 1091.30V1128.90M314.19 1128.90H321.73" stroke="#1E8DB0" class="eb"/>
<path d="M327.47 1077.90H335.01M331.24 1077.90V1116.90M327.47 1116.90H335.01" stroke="#A04247" class="eb"/>
<path d="M340.74 1086.90H348.28M344.51 1086.90V1121.30M340.74 1121.30H348.28" stroke="#2E363C" class="eb"/>
<circle cx="92.29" cy="1099.80" r="4.6" fill="#DE8F3F"/>
<circle cx="105.56" cy="1106.80" r="4.6" fill="#1A9FD3"/>
<circle cx="118.84" cy="1095.70" r="4.6" fill="#B4403F"/>
<circle cx="132.11" cy="1101.50" r="4.6" fill="#34444E"/>
<circle cx="198.49" cy="1100.80" r="4.6" fill="#DE8F3F"/>
<circle cx="211.76" cy="1107.60" r="4.6" fill="#1A9FD3"/>
<circle cx="225.04" cy="1096.10" r="4.6" fill="#B4403F"/>
<circle cx="238.31" cy="1102.40" r="4.6" fill="#34444E"/>
<circle cx="304.69" cy="1103.80" r="4.6" fill="#DE8F3F"/>
<circle cx="317.96" cy="1110.40" r="4.6" fill="#1A9FD3"/>
<circle cx="331.24" cy="1098.30" r="4.6" fill="#B4403F"/>
<circle cx="344.51" cy="1104.40" r="4.6" fill="#34444E"/>
</g>
<rect x="71.95" y="937.65" width="292.10" height="226.10" class="bd"/>
</g>
<line x1="65.90" x2="71.4" y1="1153.20" y2="1153.20" class="tk"/>
<text x="61.80" y="1160.05" class="ax" text-anchor="end">0</text>
<line x1="65.90" x2="71.4" y1="1101.95" y2="1101.95" class="tk"/>
<text x="61.80" y="1108.80" class="ax" text-anchor="end">200</text>
<line x1="65.90" x2="71.4" y1="1050.65" y2="1050.65" class="tk"/>
<text x="61.80" y="1057.50" class="ax" text-anchor="end">400</text>
<line x1="65.90" x2="71.4" y1="999.40" y2="999.40" class="tk"/>
<text x="61.80" y="1006.25" class="ax" text-anchor="end">600</text>
<line x1="65.90" x2="71.4" y1="948.35" y2="948.35" class="tk"/>
<text x="61.80" y="955.20" class="ax" text-anchor="end">800</text>
<line x1="112.50" x2="112.50" y1="1164.3" y2="1169.80" class="tk"/>
<text x="112.50" y="1186.70" class="ax" text-anchor="middle">40</text>
<line x1="217.80" x2="217.80" y1="1164.3" y2="1169.80" class="tk"/>
<text x="217.80" y="1186.70" class="ax" text-anchor="middle">60</text>
<line x1="324.80" x2="324.80" y1="1164.3" y2="1169.80" class="tk"/>
<text x="324.80" y="1186.70" class="ax" text-anchor="middle">80</text>
<g>
<rect x="375.3" y="937.1" width="292.70" height="227.20" fill="#fff"/>
<line x1="375.3" x2="668.0" y1="948.35" y2="948.35" class="gmaj"/>
<line x1="375.3" x2="668.0" y1="973.80" y2="973.80" class="gmin"/>
<line x1="375.3" x2="668.0" y1="999.40" y2="999.40" class="gmaj"/>
<line x1="375.3" x2="668.0" y1="1025.20" y2="1025.20" class="gmin"/>
<line x1="375.3" x2="668.0" y1="1050.65" y2="1050.65" class="gmaj"/>
<line x1="375.3" x2="668.0" y1="1076.40" y2="1076.40" class="gmin"/>
<line x1="375.3" x2="668.0" y1="1101.95" y2="1101.95" class="gmaj"/>
<line x1="375.3" x2="668.0" y1="1127.35" y2="1127.35" class="gmin"/>
<line x1="375.3" x2="668.0" y1="1153.20" y2="1153.20" class="gmaj"/>
<line x1="407.50" x2="407.50" y1="937.1" y2="1164.3" class="gmaj"/>
<line x1="445.50" x2="445.50" y1="937.1" y2="1164.3" class="gmin"/>
<line x1="483.10" x2="483.10" y1="937.1" y2="1164.3" class="gmaj"/>
<line x1="521.35" x2="521.35" y1="937.1" y2="1164.3" class="gmin"/>
<line x1="559.60" x2="559.60" y1="937.1" y2="1164.3" class="gmaj"/>
<line x1="597.50" x2="597.50" y1="937.1" y2="1164.3" class="gmin"/>
<line x1="635.30" x2="635.30" y1="937.1" y2="1164.3" class="gmaj"/>
<clipPath id="cb11"><rect x="375.3" y="937.1" width="292.70" height="227.20"/></clipPath>
<g clip-path="url(#cb11)">
<path d="M390.98 1100.50H396.61M393.80 1100.50V1121.50M390.98 1121.50H396.61" stroke="#C48C4E" class="eb"/>
<path d="M400.45 1103.10H406.08M403.26 1103.10V1122.90M400.45 1122.90H406.08" stroke="#1E8DB0" class="eb"/>
<path d="M409.92 1097.30H415.55M412.74 1097.30V1119.80M409.92 1119.80H415.55" stroke="#A04247" class="eb"/>
<path d="M419.39 1100.50H425.02M422.20 1100.50V1121.50M419.39 1121.50H425.02" stroke="#2E363C" class="eb"/>
<path d="M466.74 1103.00H472.37M469.56 1103.00V1124.40M466.74 1124.40H472.37" stroke="#C48C4E" class="eb"/>
<path d="M476.21 1106.60H481.84M479.02 1106.60V1127.30M476.21 1127.30H481.84" stroke="#1E8DB0" class="eb"/>
<path d="M485.68 1101.70H491.31M488.50 1101.70V1122.90M485.68 1122.90H491.31" stroke="#A04247" class="eb"/>
<path d="M495.15 1103.00H500.78M497.96 1103.00V1124.40M495.15 1124.40H500.78" stroke="#2E363C" class="eb"/>
<path d="M542.50 1104.90H548.13M545.32 1104.90V1127.30M542.50 1127.30H548.13" stroke="#C48C4E" class="eb"/>
<path d="M551.97 1107.80H557.60M554.78 1107.80V1128.80M551.97 1128.80H557.60" stroke="#1E8DB0" class="eb"/>
<path d="M561.44 1102.00H567.07M564.25 1102.00V1126.00M561.44 1126.00H567.07" stroke="#A04247" class="eb"/>
<path d="M570.91 1104.90H576.54M573.73 1104.90V1127.30M570.91 1127.30H576.54" stroke="#2E363C" class="eb"/>
<path d="M618.26 1107.80H623.89M621.08 1107.80V1133.60M618.26 1133.60H623.89" stroke="#C48C4E" class="eb"/>
<path d="M627.73 1111.00H633.36M630.54 1111.00V1135.00M627.73 1135.00H633.36" stroke="#1E8DB0" class="eb"/>
<path d="M637.20 1106.60H642.83M640.01 1106.60V1130.70M637.20 1130.70H642.83" stroke="#A04247" class="eb"/>
<path d="M646.67 1107.80H652.30M649.49 1107.80V1131.80M646.67 1131.80H652.30" stroke="#2E363C" class="eb"/>
<circle cx="393.80" cy="1110.60" r="4.6" fill="#DE8F3F"/>
<circle cx="403.26" cy="1113.10" r="4.6" fill="#1A9FD3"/>
<circle cx="412.74" cy="1109.20" r="4.6" fill="#B4403F"/>
<circle cx="422.20" cy="1110.90" r="4.6" fill="#34444E"/>
<circle cx="469.56" cy="1114.00" r="4.6" fill="#DE8F3F"/>
<circle cx="479.02" cy="1116.40" r="4.6" fill="#1A9FD3"/>
<circle cx="488.50" cy="1112.10" r="4.6" fill="#B4403F"/>
<circle cx="497.96" cy="1114.30" r="4.6" fill="#34444E"/>
<circle cx="545.32" cy="1116.10" r="4.6" fill="#DE8F3F"/>
<circle cx="554.78" cy="1118.60" r="4.6" fill="#1A9FD3"/>
<circle cx="564.25" cy="1114.60" r="4.6" fill="#B4403F"/>
<circle cx="573.73" cy="1116.10" r="4.6" fill="#34444E"/>
<circle cx="621.08" cy="1120.90" r="4.6" fill="#DE8F3F"/>
<circle cx="630.54" cy="1122.60" r="4.6" fill="#1A9FD3"/>
<circle cx="640.01" cy="1118.70" r="4.6" fill="#B4403F"/>
<circle cx="649.49" cy="1120.20" r="4.6" fill="#34444E"/>
</g>
<rect x="375.85" y="937.65" width="291.60" height="226.10" class="bd"/>
</g>
<line x1="407.50" x2="407.50" y1="1164.3" y2="1169.80" class="tk"/>
<text x="407.50" y="1186.70" class="ax" text-anchor="middle">20</text>
<line x1="483.10" x2="483.10" y1="1164.3" y2="1169.80" class="tk"/>
<text x="483.10" y="1186.70" class="ax" text-anchor="middle">40</text>
<line x1="559.60" x2="559.60" y1="1164.3" y2="1169.80" class="tk"/>
<text x="559.60" y="1186.70" class="ax" text-anchor="middle">60</text>
<line x1="635.30" x2="635.30" y1="1164.3" y2="1169.80" class="tk"/>
<text x="635.30" y="1186.70" class="ax" text-anchor="middle">80</text>
<g>
<rect x="678.0" y="937.1" width="292.60" height="227.20" fill="#fff"/>
<line x1="678.0" x2="970.6" y1="948.35" y2="948.35" class="gmaj"/>
<line x1="678.0" x2="970.6" y1="973.80" y2="973.80" class="gmin"/>
<line x1="678.0" x2="970.6" y1="999.40" y2="999.40" class="gmaj"/>
<line x1="678.0" x2="970.6" y1="1025.20" y2="1025.20" class="gmin"/>
<line x1="678.0" x2="970.6" y1="1050.65" y2="1050.65" class="gmaj"/>
<line x1="678.0" x2="970.6" y1="1076.40" y2="1076.40" class="gmin"/>
<line x1="678.0" x2="970.6" y1="1101.95" y2="1101.95" class="gmaj"/>
<line x1="678.0" x2="970.6" y1="1127.35" y2="1127.35" class="gmin"/>
<line x1="678.0" x2="970.6" y1="1153.20" y2="1153.20" class="gmaj"/>
<line x1="717.80" x2="717.80" y1="937.1" y2="1164.3" class="gmaj"/>
<line x1="772.05" x2="772.05" y1="937.1" y2="1164.3" class="gmin"/>
<line x1="824.45" x2="824.45" y1="937.1" y2="1164.3" class="gmaj"/>
<line x1="877.40" x2="877.40" y1="937.1" y2="1164.3" class="gmin"/>
<line x1="930.40" x2="930.40" y1="937.1" y2="1164.3" class="gmaj"/>
<clipPath id="cb12"><rect x="678.0" y="937.1" width="292.60" height="227.20"/></clipPath>
<g clip-path="url(#cb12)">
<path d="M694.81 1014.60H702.35M698.58 1014.60V1103.20M694.81 1103.20H702.35" stroke="#C48C4E" class="eb"/>
<path d="M708.09 1052.20H715.63M711.86 1052.20V1109.40M708.09 1109.40H715.63" stroke="#1E8DB0" class="eb"/>
<path d="M721.37 1013.20H728.91M725.14 1013.20V1109.40M721.37 1109.40H728.91" stroke="#A04247" class="eb"/>
<path d="M734.65 1052.20H742.19M738.42 1052.20V1115.50M734.65 1115.50H742.19" stroke="#2E363C" class="eb"/>
<path d="M801.03 1056.70H808.57M804.80 1056.70V1107.70M801.03 1107.70H808.57" stroke="#C48C4E" class="eb"/>
<path d="M814.31 1075.10H821.85M818.08 1075.10V1115.40M814.31 1115.40H821.85" stroke="#1E8DB0" class="eb"/>
<path d="M827.59 1053.30H835.13M831.36 1053.30V1113.80M827.59 1113.80H835.13" stroke="#A04247" class="eb"/>
<path d="M840.87 1076.10H848.41M844.64 1076.10V1118.20M840.87 1118.20H848.41" stroke="#2E363C" class="eb"/>
<path d="M907.25 1064.20H914.79M911.02 1064.20V1115.40M907.25 1115.40H914.79" stroke="#C48C4E" class="eb"/>
<path d="M920.53 1080.90H928.07M924.30 1080.90V1121.20M920.53 1121.20H928.07" stroke="#1E8DB0" class="eb"/>
<path d="M933.81 1067.20H941.35M937.58 1067.20V1120.00M933.81 1120.00H941.35" stroke="#A04247" class="eb"/>
<path d="M947.09 1083.90H954.63M950.86 1083.90V1123.00M947.09 1123.00H954.63" stroke="#2E363C" class="eb"/>
<circle cx="698.58" cy="1076.50" r="4.6" fill="#DE8F3F"/>
<circle cx="711.86" cy="1089.80" r="4.6" fill="#1A9FD3"/>
<circle cx="725.14" cy="1086.50" r="4.6" fill="#B4403F"/>
<circle cx="738.42" cy="1096.80" r="4.6" fill="#34444E"/>
<circle cx="804.80" cy="1088.80" r="4.6" fill="#DE8F3F"/>
<circle cx="818.08" cy="1098.90" r="4.6" fill="#1A9FD3"/>
<circle cx="831.36" cy="1095.80" r="4.6" fill="#B4403F"/>
<circle cx="844.64" cy="1104.00" r="4.6" fill="#34444E"/>
<circle cx="911.02" cy="1098.40" r="4.6" fill="#DE8F3F"/>
<circle cx="924.30" cy="1105.80" r="4.6" fill="#1A9FD3"/>
<circle cx="937.58" cy="1103.70" r="4.6" fill="#B4403F"/>
<circle cx="950.86" cy="1110.30" r="4.6" fill="#34444E"/>
</g>
<rect x="678.55" y="937.65" width="291.50" height="226.10" class="bd"/>
</g>
<line x1="717.80" x2="717.80" y1="1164.3" y2="1169.80" class="tk"/>
<text x="717.80" y="1186.70" class="ax" text-anchor="middle">20</text>
<line x1="824.45" x2="824.45" y1="1164.3" y2="1169.80" class="tk"/>
<text x="824.45" y="1186.70" class="ax" text-anchor="middle">40</text>
<line x1="930.40" x2="930.40" y1="1164.3" y2="1169.80" class="tk"/>
<text x="930.40" y="1186.70" class="ax" text-anchor="middle">60</text>
<rect x="71.4" y="664.7" width="293.20" height="36.80" fill="#B3B3B3"/>
<text x="217.10" y="689.50" class="st" textLength="76.7" lengthAdjust="spacingAndGlyphs">ChAdOx1</text>
<rect x="375.3" y="664.7" width="292.70" height="36.80" fill="#B3B3B3"/>
<text x="521.45" y="689.50" class="st" textLength="88.4" lengthAdjust="spacingAndGlyphs">BNT162b2</text>
<rect x="678.0" y="664.7" width="292.60" height="36.80" fill="#B3B3B3"/>
<text x="824.80" y="689.50" class="st" textLength="105.3" lengthAdjust="spacingAndGlyphs">mRNA−1273</text>
<rect x="970.3" y="700.4" width="35.60" height="225.90" fill="#B3B3B3"/>
<text x="981.80" y="813.35" class="st" textLength="75.2" lengthAdjust="spacingAndGlyphs" transform="rotate(90 981.80 813.35)">No LTHC</text>
<rect x="970.3" y="937.1" width="35.60" height="227.20" fill="#B3B3B3"/>
<text x="981.80" y="1050.70" class="st" textLength="44.7" lengthAdjust="spacingAndGlyphs" transform="rotate(90 981.80 1050.70)">LTHC</text>
<text x="521.00" y="1212.30" class="ti" text-anchor="middle">Age (years)</text>
<text x="21.50" y="932.35" class="ti" text-anchor="middle" transform="rotate(-90 21.50 932.35)">Days from first vaccination to 42 ng/ml</text>
<text transform="translate(2.7 648.8) scale(0.97 1)" x="0" y="0" class="lt" style="font-size:29.6px">b</text>
<text x="73.0" y="648.6" class="tt" style="font-size:26.2px">No prior infection</text>
<rect x="187.2" y="48.3" width="1.6" height="20.8" fill="#2b2b2b"/>
<line x1="175.3" x2="204.90" y1="1267.5" y2="1267.5" stroke="#C48C4E" stroke-width="1.3"/>
<circle cx="190.10" cy="1267.6" r="4.1" fill="#DE8F3F"/>
<text x="218.10" y="1274.0" class="lg">Female, white</text>
<line x1="345.4" x2="375.00" y1="1267.5" y2="1267.5" stroke="#1E8DB0" stroke-width="1.3"/>
<circle cx="360.20" cy="1267.6" r="4.1" fill="#1A9FD3"/>
<text x="387.30" y="1274.0" class="lg">Male, white</text>
<line x1="494.5" x2="524.10" y1="1267.5" y2="1267.5" stroke="#A04247" stroke-width="1.3"/>
<circle cx="509.30" cy="1267.6" r="4.1" fill="#B4403F"/>
<text x="538.00" y="1274.0" class="lg">Female, non−white</text>
<line x1="705.3" x2="734.90" y1="1267.5" y2="1267.5" stroke="#2E363C" stroke-width="1.3"/>
<circle cx="720.10" cy="1267.6" r="4.1" fill="#34444E"/>
<text x="748.70" y="1274.0" class="lg">Male, non−white</text>
</svg></body></html>
